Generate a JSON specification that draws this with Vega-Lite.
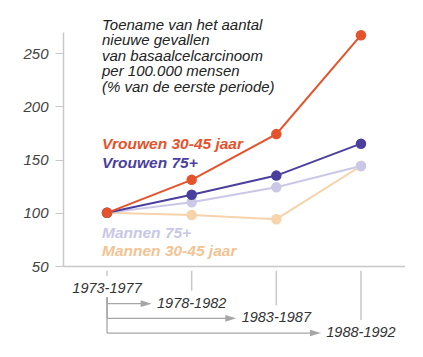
{
  "$schema": "https://vega.github.io/schema/vega-lite/v6.json",
  "background": "white",
  "padding": {"left": 22, "top": 17, "right": 0, "bottom": 0},
  "config": {"view": {"stroke": null}, "font": "Liberation Sans"},
  "spacing": 0,
  "bounds": "flush",
  "datasets": {
    "rates": [
      {"series": "Mannen 30-45 jaar", "period": "1973-1977", "value": 100},
      {"series": "Mannen 30-45 jaar", "period": "1978-1982", "value": 98},
      {"series": "Mannen 30-45 jaar", "period": "1983-1987", "value": 94},
      {"series": "Mannen 30-45 jaar", "period": "1988-1992", "value": 144},
      {"series": "Mannen 75+", "period": "1973-1977", "value": 100},
      {"series": "Mannen 75+", "period": "1978-1982", "value": 110},
      {"series": "Mannen 75+", "period": "1983-1987", "value": 124},
      {"series": "Mannen 75+", "period": "1988-1992", "value": 144},
      {"series": "Vrouwen 75+", "period": "1973-1977", "value": 100},
      {"series": "Vrouwen 75+", "period": "1978-1982", "value": 117},
      {"series": "Vrouwen 75+", "period": "1983-1987", "value": 135},
      {"series": "Vrouwen 75+", "period": "1988-1992", "value": 165},
      {"series": "Vrouwen 30-45 jaar", "period": "1973-1977", "value": 100},
      {"series": "Vrouwen 30-45 jaar", "period": "1978-1982", "value": 131},
      {"series": "Vrouwen 30-45 jaar", "period": "1983-1987", "value": 174},
      {"series": "Vrouwen 30-45 jaar", "period": "1988-1992", "value": 267}
    ],
    "periods": [
      {"period": "1973-1977", "from": "1973-1977", "row": 0},
      {"period": "1978-1982", "from": "1973-1977", "row": 1},
      {"period": "1983-1987", "from": "1973-1977", "row": 2},
      {"period": "1988-1992", "from": "1973-1977", "row": 3}
    ]
  },
  "vconcat": [
    {
      "width": 342,
      "height": 234,
      "title": {
        "text": ["Toename van het aantal", "nieuwe gevallen", "van basaalcelcarcinoom", "per 100.000 mensen", "(% van de eerste periode)"],
        "anchor": "start", "frame": "group", "orient": "top", "dx": 39, "offset": -65,
        "fontSize": 15, "fontStyle": "italic", "fontWeight": "normal", "color": "#222", "lineHeight": 15.5, "font": "Liberation Sans"
      },
      "data": {"name": "rates"},
      "encoding": {
        "x": {"field": "period", "type": "ordinal", "sort": null,
              "scale": {"type": "point", "padding": 0.52},
              "axis": {"labels": false, "ticks": false, "title": null, "domainColor": "#c8c8c8", "domainWidth": 1.5}},
        "y": {"field": "value", "type": "quantitative",
              "scale": {"domain": [50, 270], "nice": false, "zero": false},
              "axis": {"values": [50, 100, 150, 200, 250], "grid": false, "title": null, "domainColor": "#c8c8c8", "domainWidth": 1.5,
                       "tickColor": "#c8c8c8", "tickSize": 8, "labelPadding": 7, "labelFontSize": 15, "labelFontStyle": "italic",
                       "labelColor": "#444", "labelFont": "Liberation Sans"}}
      },
      "layer": [
        {
          "mark": {"type": "line", "strokeWidth": 2},
          "encoding": {
            "color": {"field": "series", "type": "nominal", "legend": null,
                      "scale": {"domain": ["Mannen 30-45 jaar", "Mannen 75+", "Vrouwen 75+", "Vrouwen 30-45 jaar"],
                                "range": ["#f6d3ab", "#cac8e6", "#4b3f9e", "#e4532b"]}}
          }
        },
        {
          "mark": {"type": "point", "filled": true, "size": 110, "opacity": 1},
          "encoding": {
            "color": {"field": "series", "type": "nominal", "legend": null}
          }
        },
        {
          "transform": [{"filter": "datum.series == 'Vrouwen 30-45 jaar' && datum.period == '1973-1977'"}],
          "mark": {"type": "text", "align": "left", "baseline": "middle", "dx": -5, "dy": -69, "fontSize": 15.5, "fontStyle": "italic", "fontWeight": "bold", "color": "#e4532b"},
          "encoding": {"text": {"field": "series"}}
        },
        {
          "transform": [{"filter": "datum.series == 'Vrouwen 75+' && datum.period == '1973-1977'"}],
          "mark": {"type": "text", "align": "left", "baseline": "middle", "dx": -5, "dy": -50, "fontSize": 15.5, "fontStyle": "italic", "fontWeight": "bold", "color": "#4b3f9e"},
          "encoding": {"text": {"field": "series"}}
        },
        {
          "transform": [{"filter": "datum.series == 'Mannen 75+' && datum.period == '1973-1977'"}],
          "mark": {"type": "text", "align": "left", "baseline": "middle", "dx": -5, "dy": 20, "fontSize": 15.5, "fontStyle": "italic", "fontWeight": "bold", "color": "#c9c7e6"},
          "encoding": {"text": {"field": "series"}}
        },
        {
          "transform": [{"filter": "datum.series == 'Mannen 30-45 jaar' && datum.period == '1973-1977'"}],
          "mark": {"type": "text", "align": "left", "baseline": "middle", "dx": -5, "dy": 38, "fontSize": 15.5, "fontStyle": "italic", "fontWeight": "bold", "color": "#f2c393"},
          "encoding": {"text": {"field": "series"}}
        }
      ]
    },
    {
      "width": 342,
      "height": 71,
      "data": {"name": "periods"},
      "layer": [
        {
          "mark": {"type": "text", "align": "center", "baseline": "middle", "fontSize": 14.5, "fontStyle": "italic", "color": "#333"},
          "encoding": {
            "x": {"field": "period", "type": "ordinal", "sort": null,
                  "scale": {"type": "point", "padding": 0.52}, "axis": null},
            "y": {"field": "row", "type": "quantitative", "scale": {"domain": [-1.56, 3.27], "reverse": true, "nice": false, "zero": false}, "axis": null},
            "text": {"field": "period"}
          }
        },
        {
          "mark": {"type": "rule", "color": "#c8c8c8", "strokeWidth": 1.5, "yOffset": -13},
          "encoding": {
            "x": {"field": "period", "type": "ordinal", "sort": null},
            "y": {"field": "row", "type": "quantitative"},
            "y2": {"datum": -1.24}
          }
        },
        {
          "transform": [{"filter": "datum.row >= 1"}],
          "mark": {"type": "rule", "color": "#a6a6a6", "strokeWidth": 1.3},
          "encoding": {
            "x": {"field": "from", "type": "ordinal", "sort": null},
            "y": {"field": "row", "type": "quantitative"},
            "y2": {"datum": 0.55}
          }
        },
        {
          "transform": [{"filter": "datum.row >= 1"}],
          "mark": {"type": "rule", "color": "#a6a6a6", "strokeWidth": 1.3, "x2Offset": -48},
          "encoding": {
            "x": {"field": "from", "type": "ordinal", "sort": null},
            "x2": {"field": "period"},
            "y": {"field": "row", "type": "quantitative"}
          }
        },
        {
          "transform": [{"filter": "datum.row >= 1"}],
          "mark": {"type": "point", "shape": "M -1 -0.6 L 1 0 L -1 0.6 Z", "filled": true, "size": 121, "opacity": 1, "color": "#a6a6a6", "xOffset": -45.5},
          "encoding": {
            "x": {"field": "period", "type": "ordinal", "sort": null},
            "y": {"field": "row", "type": "quantitative"}
          }
        }
      ]
    }
  ]
}
